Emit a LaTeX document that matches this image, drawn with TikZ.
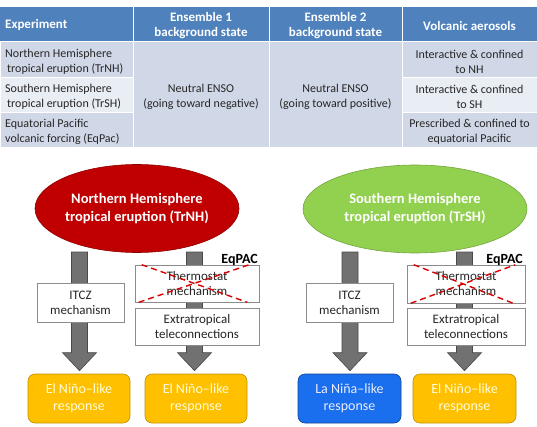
\documentclass[tikz,border=0pt]{standalone}
\usepackage{fontspec}
\setmainfont{Carlito}
\usetikzlibrary{shapes.geometric,calc}
\definecolor{hdr}{HTML}{4F81BD}
\definecolor{rowdark}{HTML}{D0D8E8}
\definecolor{rowlight}{HTML}{E9EDF4}
\definecolor{nhred}{HTML}{C00000}
\definecolor{shgreen}{HTML}{92D050}
\definecolor{ninoyel}{HTML}{FFC000}
\definecolor{ninablue}{HTML}{1A6FEF}
\definecolor{arrgray}{HTML}{717171}
\definecolor{celltxt}{HTML}{262626}
\begin{document}
\begin{tikzpicture}[x=1pt,y=-1pt,
  cellfill/.style={draw=white, line width=1pt},
  hdrtext/.style={text=white, font=\fontsize{13}{15}\selectfont\bfseries, align=center, inner sep=0pt},
  celltext/.style={text=celltxt, font=\fontsize{12}{15}\selectfont, inner sep=0pt},
  eruption/.style={ellipse, text=white, font=\fontsize{14.5}{18}\selectfont\bfseries, align=center, inner sep=0pt, line width=0.6pt},
  mechbox/.style={draw=black!45, fill=white, rectangle, align=center, text=celltxt, font=\fontsize{13}{15}\selectfont, inner sep=0pt, line width=0.6pt},
  response/.style={rectangle, rounded corners=7pt, align=center, font=\fontsize{14}{17}\selectfont, inner sep=0pt, minimum height=49pt, line width=0.6pt},
  bigarrow/.style={fill=arrgray, draw=arrgray!65!black, line width=0.6pt},
  crossline/.style={draw=red!85!black, dash pattern=on 6pt off 4pt, line width=1.4pt},
  eqlabel/.style={font=\fontsize{14}{16}\selectfont\bfseries, inner sep=0pt, text=black}
]
\useasboundingbox (0,0) rectangle (537,427);
% ---------- table ----------
\fill[hdr] (0,7) rectangle (537,42);
\draw[cellfill] (133,7) -- (133,42) (269,7) -- (269,42) (402,7) -- (402,42);
\path[cellfill, fill=rowdark] (0,42) rectangle (133,78);
\path[cellfill, fill=rowlight] (0,78) rectangle (133,113);
\path[cellfill, fill=rowdark] (0,113) rectangle (133,148);
\path[cellfill, fill=rowdark] (133,42) rectangle (269,148);
\path[cellfill, fill=rowdark] (269,42) rectangle (402,148);
\path[cellfill, fill=rowdark] (402,42) rectangle (537,78);
\path[cellfill, fill=rowlight] (402,78) rectangle (537,113);
\path[cellfill, fill=rowdark] (402,113) rectangle (537,148);

\node[hdrtext, anchor=west] (hexp) at (5,25) {Experiment};
\node[hdrtext] (hens1) at (201,26) {Ensemble 1\\background state};
\node[hdrtext] (hens2) at (335.5,26) {Ensemble 2\\background state};
\node[hdrtext] (hvol) at (469.5,25.5) {Volcanic aerosols};

\node[celltext, anchor=west, align=left] (e1) at (5,61.5) {Northern Hemisphere\\\hspace{2pt}tropical eruption (TrNH)};
\node[celltext, anchor=west, align=left] (e2) at (5,97) {Southern Hemisphere\\\hspace{2pt}tropical eruption (TrSH)};
\node[celltext, anchor=west, align=left] (e3) at (5,131.5) {Equatorial Pacific\\volcanic forcing (EqPac)};
\node[celltext, align=center] (s1) at (201,97) {Neutral ENSO\\(going toward negative)};
\node[celltext, align=center] (s2) at (335.5,97) {Neutral ENSO\\(going toward positive)};
\node[celltext, align=center] (v1) at (469.5,61.5) {Interactive \& confined\\to NH};
\node[celltext, align=center] (v2) at (469.5,97) {Interactive \& confined\\to SH};
\node[celltext, align=center] (v3) at (469.5,131.5) {Prescribed \& confined to\\equatorial Pacific};

% ---------- response boxes ----------
\node[response, fill=ninoyel, draw=ninoyel!75!black, text=yellow!15, minimum width=102pt] (o1) at (79,398.5) {El Niño–like\\response};
\node[response, fill=ninoyel, draw=ninoyel!75!black, text=yellow!15, minimum width=102pt] (o2) at (196,398.5) {El Niño–like\\response};
\node[response, fill=ninablue, draw=ninablue!60!black, text=blue!8, minimum width=103pt] (o3) at (349.5,398.5) {La Niña–like\\response};
\node[response, fill=ninoyel, draw=ninoyel!75!black, text=yellow!15, minimum width=103pt] (o4) at (464.5,398.5) {El Niño–like\\response};

% ---------- arrows ----------
\coordinate (t1) at (79.5,252);
\coordinate (t2) at (194.5,252);
\coordinate (t3) at (350,252);
\coordinate (t4) at (464.5,252);
\coordinate (h1) at ($(t1|-o1.north)+(0,-3)$);
\coordinate (h2) at ($(t2|-o2.north)+(0,-3)$);
\coordinate (h3) at ($(t3|-o3.north)+(0,-3)$);
\coordinate (h4) at ($(t4|-o4.north)+(0,-3)$);
\foreach \a in {1,2,3,4}{
  \path[bigarrow] let \p1=(t\a), \p2=(h\a) in
    (\x1-8pt,\y1) -- (\x1-8pt,\y2+18pt) -- (\x1-17pt,\y2+18pt) -- (\x2,\y2)
    -- (\x1+17pt,\y2+18pt) -- (\x1+8pt,\y2+18pt) -- (\x1+8pt,\y1) -- cycle;
}

% ---------- eruptions ----------
\node[eruption, fill=nhred, draw=nhred!75!black, minimum width=204pt, minimum height=88pt] (nh) at (137,208.5) {Northern Hemisphere\\tropical eruption (TrNH)};
\node[eruption, fill=shgreen, draw=shgreen!80!black, minimum width=224pt, minimum height=88pt] (sh) at (415,209) {Southern Hemisphere\\tropical eruption (TrSH)};

% ---------- mechanism boxes ----------
\node[mechbox, minimum width=87pt, minimum height=39pt] (itcz1) at (80.5,302.5) {ITCZ\\mechanism};
\node[mechbox, minimum width=124pt, minimum height=37pt] (th1) at (197,283.5) {Thermostat\\mechanism};
\node[mechbox, minimum width=124pt, minimum height=37pt] (ex1) at (197,326.5) {Extratropical\\teleconnections};
\node[mechbox, minimum width=87pt, minimum height=39pt] (itcz2) at (349.5,302.5) {ITCZ\\mechanism};
\node[mechbox, minimum width=118pt, minimum height=38pt] (th2) at (466,284) {Thermostat\\mechanism};
\node[mechbox, minimum width=118pt, minimum height=37pt] (ex2) at (466,326.5) {Extratropical\\teleconnections};

\foreach \b in {th1,th2}{
  \draw[crossline] ($(\b.north west)+(7,0)$) -- ($(\b.south east)+(-12,0)$);
  \draw[crossline] ($(\b.south west)+(4,0)$) -- ($(\b.north east)+(-10,0)$);
}

\node[eqlabel, anchor=base east] (eq1) at (258,263) {EqPAC};
\node[eqlabel, anchor=base east] (eq2) at (523,263) {EqPAC};
\end{tikzpicture}
\end{document}
